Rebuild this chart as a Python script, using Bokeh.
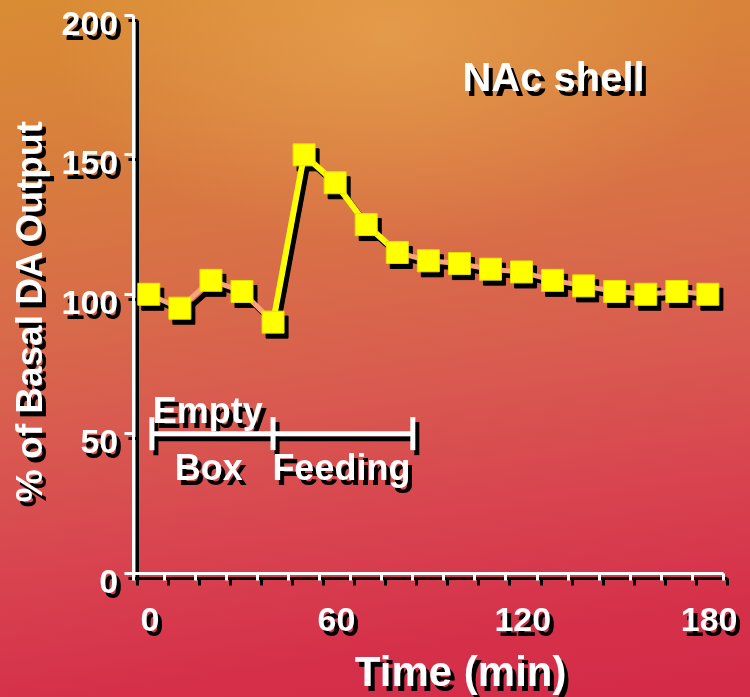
import math
from bokeh.plotting import figure
from bokeh.models import (Range1d, LinearAxis, FixedTicker, GlobalInlineStyleSheet,
                          CustomJSTickFormatter)
from bokeh.core.properties import value
from bokeh.embed import file_html
from bokeh.resources import INLINE

# ---------------- data ----------------
time_min = [0, 10, 20, 30, 40, 50, 60, 70, 80, 90, 100, 110, 120, 130, 140, 150, 160, 170, 180]
da_pct = [100, 95, 105, 101, 90, 150, 140, 125, 115, 112, 111, 109, 108, 105, 103, 101, 100, 101, 100]
feeding_rise = (40, 80)          # segment drawn in yellow

y_ticks = [0, 50, 100, 150, 200]
x_tick_labels = [0, 60, 120, 180]
x_minor_ticks = [-5, 5, 15, 25, 35, 45, 55, 65, 75, 85, 95, 105, 115, 125, 135, 145, 155, 165, 175, 185]

period_starts = [1, 40]
period_ends = [40, 85]
period_level = 50

title_text = "NAc shell"
x_title = "Time (min)"
y_title = "% of Basal DA Output"

FONT = "Liberation Sans"
WHITE = "#FFFFFF"
YELLOW = "#FFFF00"
SALMON = "#F7A47C"

X0, X1 = -47.75, 193.72
Y0, Y1 = -44.66, 205.38
YLAB_SHIFT = 2.9     # tick labels sit slightly below their ticks in the original
XLAB_SHIFT = 0.4

bg_css = """
html, body { margin: 0; padding: 0; overflow: hidden; }
html {
  min-height: 100%;
  background:
    radial-gradient(ellipse 45% 30% at 52% 5%, rgba(236,172,88,0.55), rgba(236,172,88,0) 100%),
    linear-gradient(172deg, #DA8C33 0%, #D8803C 18%, #D86E48 38%, #D95A50 55%, #D8434F 72%, #D5304A 88%, #D42B48 100%);
}
body { background: transparent; }
"""

p = figure(width=750, height=697,
           x_range=Range1d(X0, X1), y_range=Range1d(Y0, Y1),
           output_backend="svg", toolbar_location=None,
           x_axis_type=None, y_axis_type=None,
           min_border=0, min_border_left=0, min_border_right=0,
           min_border_top=0, min_border_bottom=0)
p.background_fill_alpha = 0
p.border_fill_alpha = 0
p.outline_line_color = None
p.grid.visible = False
p.styles = {"filter": "drop-shadow(4px 5px 0px #000000)"}
p.stylesheets = [GlobalInlineStyleSheet(css=bg_css)]
p.extra_y_ranges = {"ylab": Range1d(Y0 + YLAB_SHIFT, Y1 + YLAB_SHIFT)}
p.extra_x_ranges = {"xlab": Range1d(X0 - XLAB_SHIFT, X1 - XLAB_SHIFT)}

blank = CustomJSTickFormatter(code="return ''")

def label_style(ax, size="34px"):
    ax.major_label_text_color = WHITE
    ax.major_label_text_font = FONT
    ax.major_label_text_font_style = "bold"
    ax.major_label_text_font_size = size

# ---------------- y axis: line + ticks ----------------
yaxis = LinearAxis(fixed_location=-5, bounds=(0, 200),
                   ticker=FixedTicker(ticks=y_ticks, minor_ticks=[]), formatter=blank)
yaxis.axis_line_color = WHITE
yaxis.axis_line_width = 3
yaxis.major_tick_line_color = WHITE
yaxis.major_tick_line_width = 3
yaxis.major_tick_out = 9
yaxis.major_tick_in = 0
yaxis.minor_tick_line_color = None
p.add_layout(yaxis, "left")

# y axis tick labels
ylab = LinearAxis(fixed_location=-5, y_range_name="ylab", bounds=(0, 200),
                  ticker=FixedTicker(ticks=y_ticks, minor_ticks=[]))
ylab.axis_line_color = None
ylab.major_tick_line_color = None
ylab.minor_tick_line_color = None
ylab.major_tick_out = 0
ylab.major_tick_in = 0
ylab.major_label_standoff = 15
label_style(ylab)
p.add_layout(ylab, "left")

# ---------------- x axis: line + ticks ----------------
xaxis = LinearAxis(fixed_location=0, bounds=(-5, 185),
                   ticker=FixedTicker(ticks=x_minor_ticks, minor_ticks=[]), formatter=blank)
xaxis.axis_line_color = WHITE
xaxis.axis_line_width = 3
xaxis.major_tick_line_color = WHITE
xaxis.major_tick_line_width = 3
xaxis.major_tick_out = 7
xaxis.major_tick_in = 0
xaxis.minor_tick_line_color = None
p.add_layout(xaxis, "below")

# x axis tick labels
xlab = LinearAxis(fixed_location=0, x_range_name="xlab", bounds=(0, 180),
                  ticker=FixedTicker(ticks=x_tick_labels, minor_ticks=[]))
xlab.axis_line_color = None
xlab.major_tick_line_color = None
xlab.minor_tick_line_color = None
xlab.major_tick_out = 0
xlab.major_tick_in = 0
xlab.major_label_standoff = 35
label_style(xlab)
p.add_layout(xlab, "below")

# ---------------- data marks ----------------
p.line(time_min, da_pct, line_color=SALMON, line_width=5)
rise_t = [t for t in time_min if feeding_rise[0] <= t <= feeding_rise[1]]
rise_v = [v for t, v in zip(time_min, da_pct) if feeding_rise[0] <= t <= feeding_rise[1]]
p.line(rise_t, rise_v, line_color=YELLOW, line_width=6)
p.scatter(time_min, da_pct, marker="square", size=22,
          fill_color=YELLOW, line_color="#E8E000", line_width=1)

# ---------------- period bars ----------------
p.segment(x0=period_starts, y0=[period_level] * len(period_starts),
          x1=period_ends, y1=[period_level] * len(period_ends),
          line_color=WHITE, line_width=5)
caps = sorted(set(period_starts + period_ends))
p.scatter(caps, [period_level] * len(caps), marker="dash", angle=math.pi / 2,
          size=33, line_color=WHITE, line_width=5)

# ---------------- texts ----------------
def label(x, y, t, size, align="center", baseline="alphabetic", angle=0.0):
    p.text(x=[x], y=[y], text=[t], text_color=WHITE, text_font=value(FONT),
           text_font_style="bold", text_font_size=size, text_align=align,
           text_baseline=baseline, angle=angle)

label(130.3, 178.1, title_text, "40px")
label(19.0, 58.4, "Empty", "36px")
label(19.3, 38.0, "Box", "36px")
label(62.0, 38.0, "Feeding", "36px")
label(100.4, -35.3, x_title, "42px")
label(-38.4, 94.0, y_title, "37px", baseline="middle", angle=math.pi / 2)

open("out.html", "w").write(file_html(p, INLINE))
